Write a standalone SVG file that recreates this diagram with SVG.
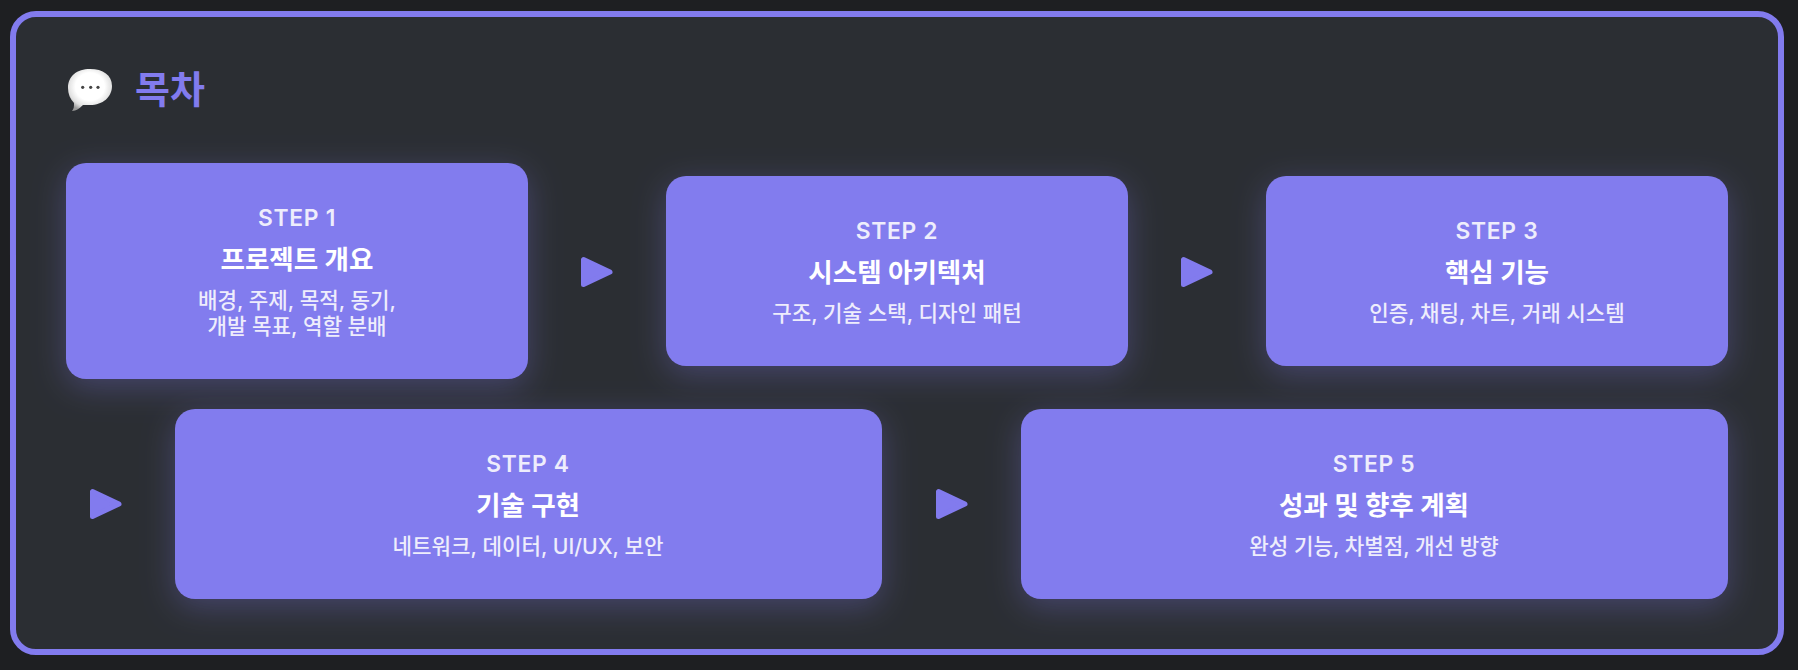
<svg xmlns="http://www.w3.org/2000/svg" width="1798" height="670" viewBox="0 0 1798 670">
<style>
text{font-family:"Inter","Noto Sans CJK KR","Noto Sans",sans-serif;text-anchor:middle;fill:#fff}
.s{font-size:22.8px;font-weight:600;letter-spacing:.7px;fill:#eeedfc}
.t{font-size:26.6px;font-weight:700}
.d{font-size:21.2px;font-weight:500;fill:#eeedfc}
.c{fill:#827bee;filter:url(#g)}
.a{fill:#827bee;stroke:#827bee;stroke-width:5;stroke-linejoin:round}
</style>
<defs>
<filter id="g" x="-20%" y="-40%" width="140%" height="190%"><feDropShadow dx="0" dy="8" stdDeviation="16" flood-color="#827bee" flood-opacity=".3"/></filter>
<filter id="e" x="-10%" y="-10%" width="120%" height="120%"><feGaussianBlur stdDeviation=".7"/></filter>
<radialGradient id="b" cx=".5" cy=".42" r=".6"><stop offset=".55" stop-color="#fff"/><stop offset=".82" stop-color="#e0e0e0"/><stop offset="1" stop-color="#9a9a9a"/></radialGradient>
</defs>
<rect width="1798" height="670" fill="#1e1f22"/>
<rect id="panel" x="13" y="14" width="1768" height="638" rx="23" fill="#2b2e33" stroke="#827bee" stroke-width="6"/>
<g id="title">
<path filter="url(#e)" d="M90 69c13 0 22 6 22 17s-9 19-22 19c-2 0-5 0-7 0-3 3-7 6-11 6 2-2 2-5 2-8-4-4-6-9-6-15 0-12 9-19 22-19z" fill="url(#b)"/>
<circle cx="82.7" cy="87.3" r="1.6" fill="#444"/><circle cx="90.7" cy="87.3" r="1.6" fill="#444"/><circle cx="98" cy="87.3" r="1.6" fill="#444"/>
<text x="170" y="103" style="font-size:38px;font-weight:700;fill:#827bee">목차</text>
</g>
<g id="connectors">
<path class="a" d="M583.500 259.500V284.500L610 272Z"/>
<path class="a" d="M1183.500 259.500V284.500L1210 272Z"/>
<path class="a" d="M92.500 491.500V516.500L119 504Z"/>
<path class="a" d="M938.500 491.500V516.500L965 504Z"/>
</g>
<g id="step1"><rect class="c" x="66" y="163" width="462" height="216" rx="20"/>
<text class="s" x="297" y="226">STEP 1</text><text class="t" x="297" y="269">프로젝트 개요</text><text class="d" x="297" y="307.500">배경, 주제, 목적, 동기,</text><text class="d" x="297" y="334">개발 목표, 역할 분배</text></g>
<g id="step2"><rect class="c" x="666" y="176" width="462" height="190" rx="20"/>
<text class="s" x="897" y="239">STEP 2</text><text class="t" x="897" y="282">시스템 아키텍처</text><text class="d" x="897" y="320.500">구조, 기술 스택, 디자인 패턴</text></g>
<g id="step3"><rect class="c" x="1266" y="176" width="462" height="190" rx="20"/>
<text class="s" x="1497" y="239">STEP 3</text><text class="t" x="1497" y="282">핵심 기능</text><text class="d" x="1497" y="320.500">인증, 채팅, 차트, 거래 시스템</text></g>
<g id="step4"><rect class="c" x="175" y="409" width="707" height="190" rx="20"/>
<text class="s" x="528" y="472">STEP 4</text><text class="t" x="528" y="515">기술 구현</text><text class="d" x="528" y="553.500">네트워크, 데이터, UI/UX, 보안</text></g>
<g id="step5"><rect class="c" x="1021" y="409" width="707" height="190" rx="20"/>
<text class="s" x="1374" y="472">STEP 5</text><text class="t" x="1374" y="515">성과 및 향후 계획</text><text class="d" x="1374" y="553.500">완성 기능, 차별점, 개선 방향</text></g>
</svg>
